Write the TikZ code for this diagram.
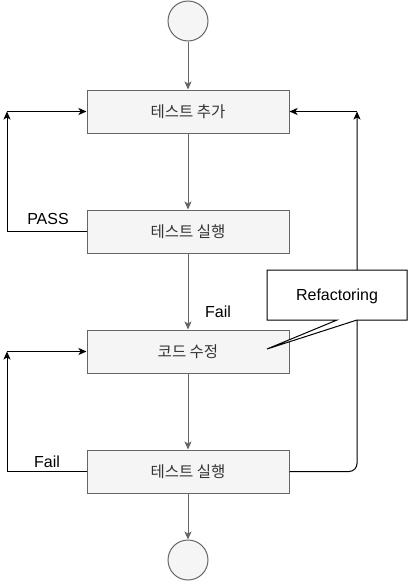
\documentclass[tikz,border=0pt]{standalone}
\usepackage{fontspec}
\setmainfont{Liberation Sans}
\newfontfamily\kr{Noto Sans CJK KR}
\usetikzlibrary{arrows.meta}
\definecolor{boxfill}{HTML}{F5F5F5}
\definecolor{boxline}{HTML}{666666}
\definecolor{boxtext}{HTML}{333333}
\tikzset{
  stepbox/.style={draw=boxline, fill=boxfill, line width=1pt, minimum width=202pt, minimum height=43pt, inner sep=0pt, font=\kr\fontsize{15.5}{18}\selectfont, text=boxtext},
  endcircle/.style={draw=boxline, fill=boxfill, line width=1pt, circle, minimum size=40pt, inner sep=0pt},
  flow/.style={draw=boxline, line width=1pt, -{Stealth[length=8pt,width=7pt,inset=2pt]}},
  loopline/.style={draw=black, line width=1pt},
  looparrow/.style={draw=black, line width=1pt, -{Stealth[length=8pt,width=7pt,inset=2pt]}},
  lbl/.style={font=\fontsize{16}{19}\selectfont, text=black, inner sep=0pt}
}
\begin{document}
\begin{tikzpicture}[x=1pt,y=-1pt]
\useasboundingbox (0,0) rectangle (408,581);
\node[endcircle] (start) at (188,21) {};
\node[stepbox] (b1) at (188,111.5) {테스트 추가};
\node[stepbox] (b2) at (188,231.5) {테스트 실행};
\node[stepbox] (b3) at (188,351.5) {코드 수정};
\node[stepbox] (b4) at (188,471.5) {테스트 실행};
\node[endcircle] (stop) at (188,560) {};

\draw[flow] (start) -- (b1);
\draw[flow] (b1) -- (b2);
\draw[flow] (b2) -- (b3);
\draw[flow] (b3) -- (b4);
\draw[flow] (b4) -- (stop);

\coordinate (L1) at (7,111.5);
\coordinate (L2) at (7,351.5);
\coordinate (R1) at (357,111.5);

\draw[looparrow] (b2.west) -- (7,231.5) -- (L1);
\draw[looparrow] (L1) -- (b1.west);
\draw[looparrow] (b4.west) -- (7,471.5) -- (L2);
\draw[looparrow] (L2) -- (b3.west);
\draw[looparrow, rounded corners=8pt] (b4.east) -- (357,471.5) -- (R1);
\draw[looparrow] (R1) -- (b1.east);

\node[lbl] (pass) at (48,219) {PASS};
\node[lbl] (fail1) at (218,312) {Fail};
\node[lbl] (fail2) at (47,462) {Fail};

\draw[fill=white, draw=black, line width=1pt] (267,270) -- (407,270) -- (407,320) -- (357,320) -- (267,349) -- (337,320) -- (267,320) -- cycle;
\node[lbl] (refac) at (337,296) {Refactoring};
\end{tikzpicture}
\end{document}
